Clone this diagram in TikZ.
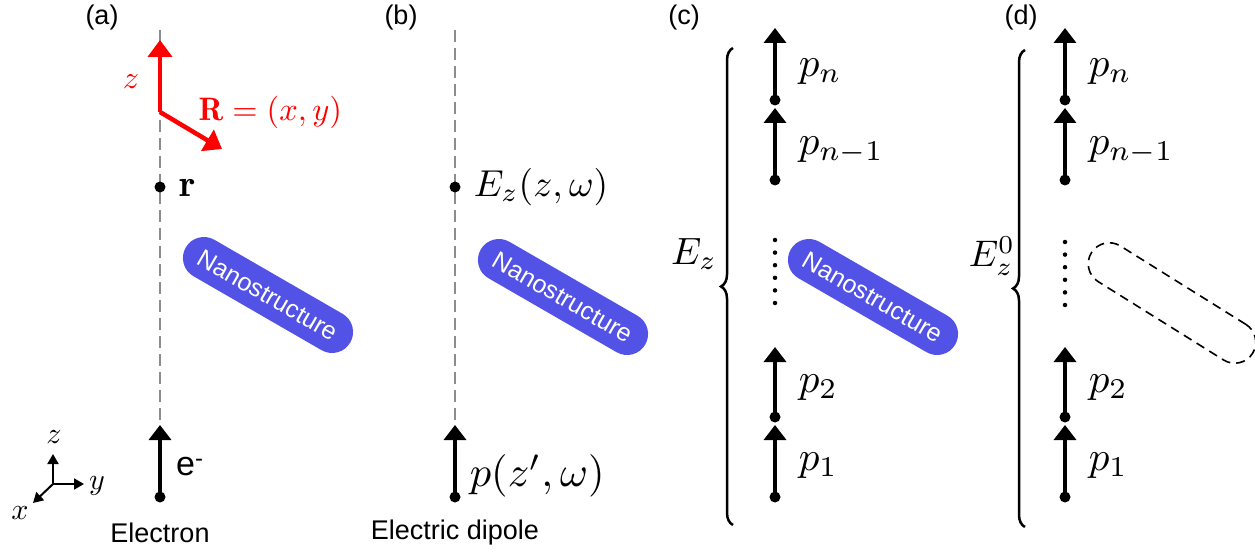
\documentclass[tikz,border=0pt]{standalone}
\usepackage{fontspec}
\setsansfont{Liberation Sans}
\usetikzlibrary{arrows.meta,decorations.pathreplacing}
\definecolor{nano}{RGB}{82,82,230}
\definecolor{dgray}{RGB}{140,140,140}
\begin{document}
\begin{tikzpicture}[x=1pt,y=-1pt,
  dot/.style={circle, fill=black, inner sep=0pt, minimum size=11},
  sdot/.style={circle, fill=black, inner sep=0pt, minimum size=4.5},
  dip/.style={line width=3.5, -{Triangle[width=22,length=15]}},
  redarr/.style={red, line width=4.5, -{Triangle[width=24,length=17]}},
  axarr/.style={line width=2, -{Triangle[width=11,length=10]}},
  guide/.style={dgray, line width=2, dash pattern=on 12 off 6},
  plab/.style={scale=4.1, inner sep=0pt, anchor=west},
  smath/.style={scale=3.0, inner sep=0pt},
  sans/.style={inner sep=0pt, font=\sffamily\fontsize{27}{32}\selectfont},
  pill/.style={rotate=-30, minimum width=190, minimum height=42, rounded corners=21, inner sep=0pt},
  nanotext/.style={fill=nano, text=white, font=\sffamily\fontsize{25}{28}\selectfont},
  bracestyle/.style={line width=2.5, decorate, decoration={brace, amplitude=12}}
]
\useasboundingbox (0,0) rectangle (1255,553);

% panel labels
\node[sans] (la) at (102,18) {(a)};
\node[sans] (lb) at (401,18) {(b)};
\node[sans] (lc) at (684,18) {(c)};
\node[sans] (ld) at (1021,18) {(d)};

% ---------- (a)
\coordinate (atop) at (160,30);
\coordinate (atip) at (160,425);
\draw[guide] (atop) -- (atip);
\coordinate (ro) at (160,112);
\coordinate (rz) at (160,40);
\coordinate (rR) at (222,149);
\draw[redarr] (ro) -- (rz);
\draw[redarr] (ro) -- (rR);
\node[scale=3.2, inner sep=0pt, red] (zlab) at (131,82) {$z$};
\node[scale=3.25, inner sep=0pt, red, anchor=west] (Rlab) at (198,112) {$\mathbf{R}=(x,y)$};
\node[dot] (ar) at (160,187) {};
\node[scale=3.8, inner sep=0pt, anchor=west] (rlab) at (179,188) {$\mathbf{r}$};
\node[pill, nanotext] (nanoa) at (268,295) {Nanostructure};
\node[dot] (ae) at (160,497) {};
\draw[dip] (ae.center) -- (atip);
\node[inner sep=0pt, anchor=west, font=\sffamily\fontsize{34}{38}\selectfont] (elab) at (176,467) {e\textsuperscript{-}};
\node[sans] (elec) at (160,533) {Electron};
% axes
\coordinate (ax0) at (53,484);
\coordinate (axz) at (53,454);
\coordinate (axy) at (84,484);
\coordinate (axx) at (33,503);
\draw[axarr] (ax0) -- (axz);
\draw[axarr] (ax0) -- (axy);
\draw[axarr] (ax0) -- (axx);
\node[smath] (axzl) at (54,437) {$z$};
\node[smath] (axyl) at (97,486) {$y$};
\node[smath] (axxl) at (20,513) {$x$};

% ---------- (b)
\coordinate (btop) at (455,30);
\coordinate (btip) at (455,425);
\draw[guide] (btop) -- (btip);
\node[dot] (br) at (455,187) {};
\node[scale=3.75, inner sep=0pt, anchor=west] (Elab) at (473,187) {$E_z(z,\omega)$};
\node[pill, nanotext] (nanob) at (563,297) {Nanostructure};
\node[dot] (bp) at (455,497) {};
\draw[dip] (bp.center) -- (btip);
\node[scale=4.25, inner sep=0pt, anchor=west] (plab) at (469,476) {$p(z',\omega)$};
\node[sans] (edip) at (455,533) {Electric dipole};

% ---------- (c)
\foreach \n/\d/\t in {cn/100/28, cm/180/108, c2/417/347, c1/497/425}{
  \node[dot] (\n d) at (775,\d) {};
  \coordinate (\n t) at (775,\t);
  \draw[dip] (\n d.center) -- (\n t);
}
\foreach \i in {0,...,5}{ \node[sdot] (cv\i) at (775,240+12.6*\i) {}; }
\node[plab] (cpn) at (798,72) {$p_n$};
\node[plab] (cpm) at (798,150) {$p_{n-1}$};
\node[plab] (cp2) at (798,388) {$p_2$};
\node[plab] (cp1) at (798,466) {$p_1$};
\coordinate (cbb) at (733,525);
\coordinate (cbt) at (733,48);
\draw[bracestyle] (cbb) -- (cbt);
\node[scale=3.8, inner sep=0pt] (cEz) at (694,254) {$E_z$};
\node[pill, nanotext] (nanoc) at (873,297) {Nanostructure};

% ---------- (d)
\foreach \n/\d/\t in {dn/100/28, dm/180/108, d2/417/347, d1/497/425}{
  \node[dot] (\n d) at (1065,\d) {};
  \coordinate (\n t) at (1065,\t);
  \draw[dip] (\n d.center) -- (\n t);
}
\foreach \i in {0,...,5}{ \node[sdot] (dv\i) at (1065,242+12.6*\i) {}; }
\node[plab] (dpn) at (1088,72) {$p_n$};
\node[plab] (dpm) at (1088,150) {$p_{n-1}$};
\node[plab] (dp2) at (1088,388) {$p_2$};
\node[plab] (dp1) at (1088,466) {$p_1$};
\coordinate (dbb) at (1025,527);
\coordinate (dbt) at (1025,50);
\draw[bracestyle] (dbb) -- (dbt);
\node[scale=3.7, inner sep=0pt] (dEz) at (992,256) {$E_z^0$};
\node[pill, rotate=-2, draw, line width=1.6, dash pattern=on 9 off 6] (nanod) at (1172,303) {};
\end{tikzpicture}
\end{document}
